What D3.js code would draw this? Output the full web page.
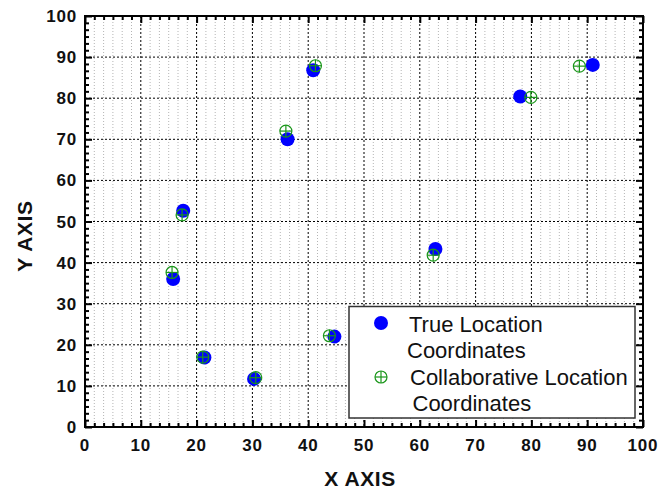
<!DOCTYPE html>
<html>
<head>
<meta charset="utf-8">
<script src="https://cdn.jsdelivr.net/npm/d3@7/dist/d3.min.js"></script>
<style>
  html, body { margin: 0; padding: 0; background: #fff; }
  svg { display: block; }
  .tick-label { font-family: "Liberation Sans", Arial, sans-serif; font-weight: bold; font-size: 17px; fill: #111; letter-spacing: 0.8px; }
  .axis-title { font-family: "Liberation Sans", Arial, sans-serif; font-weight: bold; font-size: 21px; fill: #111; letter-spacing: 0.6px; }
  .legend-text { font-family: "Liberation Sans", Arial, sans-serif; font-size: 22px; fill: #111; }
</style>
</head>
<body>
<svg id="chart" width="658" height="490"></svg>
<script>
// Node positions: true coordinates and collaboratively estimated coordinates
const trueX   = [15.8, 17.6, 21.4, 30.3, 36.3, 40.9, 44.7, 62.8, 78.0, 91.0];
const trueY   = [36.0, 52.6, 16.9, 11.7, 70.0, 86.8, 22.0, 43.3, 80.4, 88.1];
const collabX = [15.6, 17.4, 21.1, 30.6, 36.0, 41.3, 43.8, 62.4, 79.9, 88.6];
const collabY = [37.6, 51.6, 17.0, 12.0, 72.0, 87.9, 22.2, 41.8, 80.2, 87.8];

const xTicks = [0, 10, 20, 30, 40, 50, 60, 70, 80, 90, 100];
const yTicks = [0, 10, 20, 30, 40, 50, 60, 70, 80, 90, 100];
const minorPerMajor = 6;

const legendLabels = [
  ["True Location", "Coordinates"],
  ["Collaborative Location", "Coordinates"]
];
const axisTitles = { x: "X AXIS", y: "Y AXIS" };

const svg = d3.select("#chart");
const L = 85, R = 643, T = 16, B = 427;

const x = d3.scaleLinear().domain([0, 100]).range([L, R]);
const y = d3.scaleLinear().domain([0, 100]).range([B, T]);

const minorVals = [];
for (let i = 0; i < xTicks.length - 1; i++) {
  for (let k = 1; k < minorPerMajor; k++) {
    minorVals.push(xTicks[i] + (xTicks[i + 1] - xTicks[i]) * k / minorPerMajor);
  }
}

// Grid: minor vertical lines, then major lines in both directions
const grid = svg.append("g");
grid.selectAll(".minor-v").data(minorVals).join("line")
  .attr("x1", d => x(d)).attr("x2", d => x(d))
  .attr("y1", T).attr("y2", B)
  .attr("stroke", "#b4b4b4").attr("stroke-width", 1)
  .attr("stroke-dasharray", "1,2");
grid.selectAll(".major-v").data(xTicks.slice(1, -1)).join("line")
  .attr("x1", d => x(d)).attr("x2", d => x(d))
  .attr("y1", T).attr("y2", B)
  .attr("stroke", "#000").attr("stroke-width", 1)
  .attr("stroke-dasharray", "2,2");
grid.selectAll(".major-h").data(yTicks.slice(1, -1)).join("line")
  .attr("x1", L).attr("x2", R)
  .attr("y1", d => y(d)).attr("y2", d => y(d))
  .attr("stroke", "#000").attr("stroke-width", 1)
  .attr("stroke-dasharray", "2,2");

// Axes with inward ticks on all four sides
function tickAxis(axisFn, scale, vals, size) {
  return axisFn(scale).tickValues(vals).tickSize(size).tickFormat("");
}
const majorLen = 7, minorLen = 4;
const axes = svg.append("g");
axes.append("g").attr("transform", `translate(0,${B})`).call(tickAxis(d3.axisTop, x, xTicks, majorLen));
axes.append("g").attr("transform", `translate(0,${B})`).call(tickAxis(d3.axisTop, x, minorVals, minorLen));
axes.append("g").attr("transform", `translate(0,${T})`).call(tickAxis(d3.axisBottom, x, xTicks, majorLen));
axes.append("g").attr("transform", `translate(0,${T})`).call(tickAxis(d3.axisBottom, x, minorVals, minorLen));
axes.append("g").attr("transform", `translate(${L},0)`).call(tickAxis(d3.axisRight, y, yTicks, majorLen));
axes.append("g").attr("transform", `translate(${L},0)`).call(tickAxis(d3.axisRight, y, minorVals, minorLen));
axes.append("g").attr("transform", `translate(${R},0)`).call(tickAxis(d3.axisLeft, y, yTicks, majorLen));
axes.append("g").attr("transform", `translate(${R},0)`).call(tickAxis(d3.axisLeft, y, minorVals, minorLen));
axes.selectAll(".domain").remove();
axes.selectAll(".tick line").attr("stroke", "#000").attr("stroke-width", 2);

// Frame
svg.append("rect")
  .attr("x", L).attr("y", T).attr("width", R - L).attr("height", B - T)
  .attr("fill", "none").attr("stroke", "#000").attr("stroke-width", 2);

// Tick labels
svg.append("g").selectAll("text").data(xTicks).join("text")
  .attr("class", "tick-label")
  .attr("x", d => x(d)).attr("y", 451)
  .attr("text-anchor", "middle")
  .text(d => d);
svg.append("g").selectAll("text").data(yTicks).join("text")
  .attr("class", "tick-label")
  .attr("x", 77).attr("y", d => y(d) + 6)
  .attr("text-anchor", "end")
  .text(d => d);

// Axis titles
svg.append("text").attr("class", "axis-title")
  .attr("x", 360).attr("y", 486).attr("text-anchor", "middle")
  .text(axisTitles.x);
svg.append("text").attr("class", "axis-title")
  .attr("transform", "translate(32,236) rotate(-90)")
  .attr("text-anchor", "middle")
  .text(axisTitles.y);

// Markers
const green = "#1a961a";
const trueData = trueX.map((v, i) => [v, trueY[i]]);
const collabData = collabX.map((v, i) => [v, collabY[i]]);

function drawTrue(sel) {
  sel.append("circle").attr("r", 7).attr("fill", "#0000ff");
}
function drawCollab(sel) {
  const r = 6;
  sel.append("circle").attr("r", r).attr("fill", "none").attr("stroke", green).attr("stroke-width", 1.2);
  sel.append("line").attr("x1", -r).attr("x2", r).attr("y1", 0).attr("y2", 0).attr("stroke", green).attr("stroke-width", 1.2);
  sel.append("line").attr("x1", 0).attr("x2", 0).attr("y1", -r).attr("y2", r).attr("stroke", green).attr("stroke-width", 1.2);
}

svg.append("g").selectAll("g").data(trueData).join("g")
  .attr("transform", d => `translate(${x(d[0])},${y(d[1])})`)
  .call(drawTrue);
svg.append("g").selectAll("g").data(collabData).join("g")
  .attr("transform", d => `translate(${x(d[0])},${y(d[1])})`)
  .call(drawCollab);

// Legend
const lg = svg.append("g");
lg.append("rect").attr("x", 349).attr("y", 306.5).attr("width", 286).attr("height", 111.5)
  .attr("fill", "#fff").attr("stroke", "#333").attr("stroke-width", 1.5);
lg.append("g").attr("transform", "translate(381,323)").call(drawTrue);
lg.append("g").attr("transform", "translate(381,377)").call(drawCollab);
const legendRows = [
  { text: legendLabels[0][0], x: 409, y: 331.5 },
  { text: legendLabels[0][1], x: 407, y: 357.5 },
  { text: legendLabels[1][0], x: 410, y: 385 },
  { text: legendLabels[1][1], x: 412.5, y: 410.5 }
];
lg.selectAll("text").data(legendRows).join("text")
  .attr("class", "legend-text")
  .attr("x", d => d.x).attr("y", d => d.y)
  .text(d => d.text);
</script>
</body>
</html>
